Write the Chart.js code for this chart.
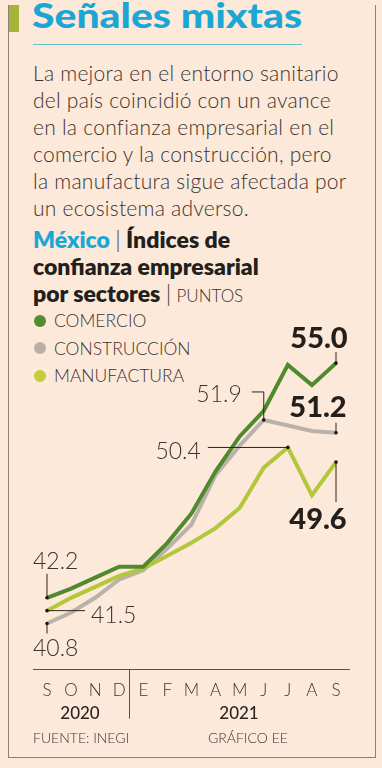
<!DOCTYPE html>
<html lang="es">
<head>
<meta charset="utf-8">
<title>Señales mixtas</title>
<script src="https://cdn.jsdelivr.net/npm/chart.js@4.4.1/dist/chart.umd.min.js"></script>
<style>
  html, body { margin: 0; padding: 0; }
  body {
    width: 382px; height: 768px; position: relative; overflow: hidden;
    background: #fde9da; color: #3b3330;
    font-family: Lato, 'Noto Sans', sans-serif;
  }
  .marco {
    position: absolute; left: 8px; top: 5px; width: 368px; height: 753px; box-sizing: border-box;
    border-left: 1px solid #8f8179; border-right: 1px solid #8f8179; border-bottom: 1px solid #8f8179;
  }
  .barra { position: absolute; left: 9px; top: 5px; width: 10px; height: 27px; background: #a5b43b; }
  h1 {
    position: absolute; left: 32px; top: -5px; margin: 0; white-space: nowrap;
    font: 900 34px/40px Lato, sans-serif; color: #1ca6d6; transform-origin: left center;
  }
  .regla { position: absolute; left: 33px; top: 44px; width: 269px; height: 1px; background: #62bfd0; }
  .texto {
    position: absolute; left: 33px; top: 59px; white-space: nowrap;
    font: 300 21px/27px Lato, sans-serif; letter-spacing: 0.25px;
  }
  .subtitulo {
    position: absolute; left: 33px; top: 226px; white-space: nowrap;
    font: 800 23px/27px Lato, sans-serif; color: #231f1c;
  }
  .subtitulo .pais { color: #1ca6d6; }
  .subtitulo .sep, .subtitulo .unidad { font-weight: 300; color: #3b3330; }
  .subtitulo .unidad { font-size: 17px; }
  .leyenda { position: absolute; left: 34px; top: 307px; font: 300 17.5px/27.5px Lato, sans-serif; }
  .leyenda div { display: flex; align-items: center; white-space: nowrap; }
  .leyenda span { display: inline-block; width: 12px; height: 12px; border-radius: 50%; margin-right: 8px; }
  #grafica { position: absolute; left: 0; top: 300px; }
  .anio { position: absolute; top: 703px; font: 500 17px/20px Lato, sans-serif; color: #2b2522; transform: translateX(-50%); }
  .pie { position: absolute; top: 729px; font: 300 14px/18px Lato, sans-serif; white-space: nowrap; }
</style>
</head>
<body>
<div class="marco"></div>
<div class="barra"></div>
<h1 id="titulo">Señales mixtas</h1>
<div class="regla"></div>
<div class="texto">
  La mejora en el entorno sanitario<br>
  del país coincidió con un avance<br>
  en la confianza empresarial en el<br>
  comercio y la construcción, pero<br>
  la manufactura sigue afectada por<br>
  un ecosistema adverso.
</div>
<div class="subtitulo">
  <span class="pais">México</span> <span class="sep">|</span> Índices de<br>
  confianza empresarial<br>
  por sectores <span class="sep">|</span> <span class="unidad">PUNTOS</span>
</div>
<div class="leyenda" id="leyenda"></div>
<canvas id="grafica" width="382" height="468"></canvas>
<div class="anio" style="left:80px">2020</div>
<div class="anio" style="left:239px">2021</div>
<div class="pie" style="left:33px">FUENTE: INEGI</div>
<div class="pie" style="left:208px">GRÁFICO EE</div>

<script>
// Datos (sep 2020 - sep 2021)
const MESES = ['S', 'O', 'N', 'D', 'E', 'F', 'M', 'A', 'M', 'J', 'J', 'A', 'S'];
const SERIES = ['COMERCIO', 'CONSTRUCCIÓN', 'MANUFACTURA'];
const COMERCIO = [42.2, 42.7, 43.3, 43.9, 43.9, 45.2, 46.8, 49.1, 51.0, 52.4, 54.9, 53.8, 55.0];
const CONSTRUCCION = [40.8, 41.4, 42.2, 43.2, 43.7, 44.9, 46.2, 48.9, 50.5, 51.9, 51.6, 51.3, 51.2];
const MANUFACTURA = [41.5, 42.2, 42.8, 43.4, 43.8, 44.5, 45.2, 46.0, 47.1, 49.3, 50.4, 47.8, 49.6];

const COLORES = { linea: ['#4f8a2c', '#b9b1aa', '#b2c73a'], punto: ['#558c30', '#b8b0a9', '#c3cd3c'] };
const TINTA = '#231f1c';
const GRIS = '#3b3330';

// Etiquetas: serie, índice, guía (relativa al punto) y texto
const ANOTACIONES = [
  { serie: 0, i: 12, guia: [[0, -11]], txt: [-17, -15], align: 'center', grueso: true },
  { serie: 1, i: 12, guia: [[0, -10]], txt: [-18, -16], align: 'center', grueso: true },
  { serie: 2, i: 12, guia: [[0, 40]], txt: [-18, 67], align: 'center', grueso: true },
  { serie: 1, i: 9, guia: [[0, -28], [-12, -28]], txt: [-22, -18], align: 'right' },
  { serie: 2, i: 10, guia: [[-80, 0]], txt: [-87, 12], align: 'right' },
  { serie: 0, i: 0, guia: [[0, -24]], txt: [-14, -29], align: 'left' },
  { serie: 2, i: 0, guia: [[38, 0]], txt: [44, 12], align: 'left' },
  { serie: 1, i: 0, guia: [[0, 10]], txt: [-14, 33], align: 'left' }
];

// Título ajustado al ancho de la regla
const titulo = document.getElementById('titulo');
titulo.style.transform = `scaleX(${270 / titulo.getBoundingClientRect().width})`;

// Leyenda
document.getElementById('leyenda').innerHTML = SERIES
  .map((s, k) => `<div><span style="background:${COLORES.punto[k]}"></span>${s}</div>`)
  .join('');

function crearSerie(label, data, k, order) {
  return {
    label, data, order,
    borderColor: COLORES.linea[k],
    borderWidth: 4,
    pointRadius: 0,
    tension: 0,
    fill: false
  };
}

const anotar = {
  id: 'anotar',
  afterDatasetsDraw(chart) {
    const { ctx, chartArea } = chart;
    ctx.save();

    // eje y división de años
    const x = chart.scales.x;
    const base = Math.round(chartArea.bottom) + 0.5;
    ctx.strokeStyle = '#5a4f49';
    ctx.lineWidth = 1;
    ctx.beginPath();
    ctx.moveTo(chartArea.left - 14, base);
    ctx.lineTo(chartArea.right + 14, base);
    const div = Math.round((x.getPixelForValue(3) + x.getPixelForValue(4)) / 2) - 1.5;
    ctx.moveTo(div, base);
    ctx.lineTo(div, base + 49);
    ctx.stroke();

    ANOTACIONES.forEach(a => {
      const p = chart.getDatasetMeta(a.serie).data[a.i];
      ctx.strokeStyle = '#2a2522';
      ctx.lineWidth = 1;
      ctx.beginPath();
      ctx.moveTo(p.x, p.y);
      a.guia.forEach(([dx, dy]) => ctx.lineTo(p.x + dx, p.y + dy));
      ctx.stroke();

      ctx.fillStyle = '#1a1614';
      ctx.beginPath();
      ctx.arc(p.x, p.y, 1.8, 0, Math.PI * 2);
      ctx.fill();

      const valor = chart.data.datasets[a.serie].data[a.i].toFixed(1);
      ctx.font = a.grueso ? '900 29px Lato, sans-serif' : '300 23px Lato, sans-serif';
      ctx.fillStyle = a.grueso ? TINTA : GRIS;
      ctx.textAlign = a.align;
      ctx.textBaseline = 'alphabetic';
      ctx.fillText(valor, p.x + a.txt[0], p.y + a.txt[1]);
    });
    ctx.restore();
  }
};

new Chart(document.getElementById('grafica'), {
  type: 'line',
  data: {
    labels: MESES,
    datasets: [
      crearSerie(SERIES[0], COMERCIO, 0, 0),
      crearSerie(SERIES[1], CONSTRUCCION, 1, 2),
      crearSerie(SERIES[2], MANUFACTURA, 2, 1)
    ]
  },
  options: {
    responsive: false,
    animation: false,
    devicePixelRatio: 1,
    layout: { padding: { left: 47, right: 46, top: 40, bottom: 55 } },
    plugins: { legend: { display: false }, tooltip: { enabled: false } },
    scales: {
      x: {
        grid: { display: false, drawTicks: false },
        border: { display: false },
        ticks: {
          autoSkip: false, maxRotation: 0, padding: 12,
          color: GRIS, font: { family: 'Lato', size: 17, weight: '300' }
        }
      },
      y: { display: false, min: 38.34, max: 56.26 }
    }
  },
  plugins: [anotar]
});
</script>
</body>
</html>
